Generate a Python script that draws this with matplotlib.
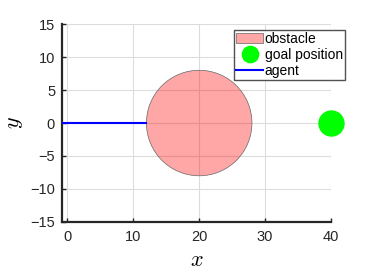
import numpy as np
import matplotlib
matplotlib.use("Agg")
import matplotlib.pyplot as plt
from matplotlib.patches import Circle

# scene data
obstacle_center = (20, 0)
obstacle_radius = 8
goal = (40, 0)
agent_x = [-0.8, 12]
agent_y = [0, 0]
xticks = [0, 10, 20, 30, 40]
yticks = [-15, -10, -5, 0, 5, 10, 15]

plt.rcParams['font.family'] = ['Liberation Sans', 'DejaVu Sans']
plt.rcParams['mathtext.fontset'] = 'cm'

fig = plt.figure(figsize=(3.65, 2.74), dpi=100)
ax = fig.add_axes([0.170, 0.190, 0.737, 0.722])

obs = Circle(obstacle_center, obstacle_radius, facecolor=(1, 0, 0, 0.35),
             edgecolor='#666666', linewidth=0.5, label='obstacle', zorder=3)
ax.add_patch(obs)
ax.plot(goal[0], goal[1], 'o', color='#00ff00', markersize=18,
        label='goal position', clip_on=False, zorder=4)
ax.plot(agent_x, agent_y, color='#0000ff', linewidth=1.5, label='agent', zorder=4)

ax.set_xlim(-0.8, 40)
ax.set_ylim(-15, 15)
ax.set_xticks(xticks)
ax.set_yticks(yticks)
ax.grid(True, color='#dcdcdc', linewidth=0.8, zorder=0)
ax.set_axisbelow(True)

for s in ['top', 'right']:
    ax.spines[s].set_visible(False)
for s in ['left', 'bottom']:
    ax.spines[s].set_linewidth(1.6)
    ax.spines[s].set_color('#262626')
ax.tick_params(direction='in', length=3, width=1, labelsize=10.5, colors='#262626')
ax.tick_params(axis='x', pad=6)
ax.tick_params(axis='y', pad=5)

ax.set_xlabel('$x$', fontsize=16, labelpad=4)
ax.set_ylabel('$y$', fontsize=16, labelpad=4)

leg = ax.legend(loc='upper right', bbox_to_anchor=(1.052, 0.97), fontsize=10,
                frameon=True, fancybox=False, edgecolor='#262626',
                borderpad=0.15, labelspacing=0.15, handlelength=1.9,
                handletextpad=0.15, borderaxespad=0, markerscale=0.65)
leg.get_frame().set_linewidth(1.0)

fig.savefig('out.png', dpi=100)
